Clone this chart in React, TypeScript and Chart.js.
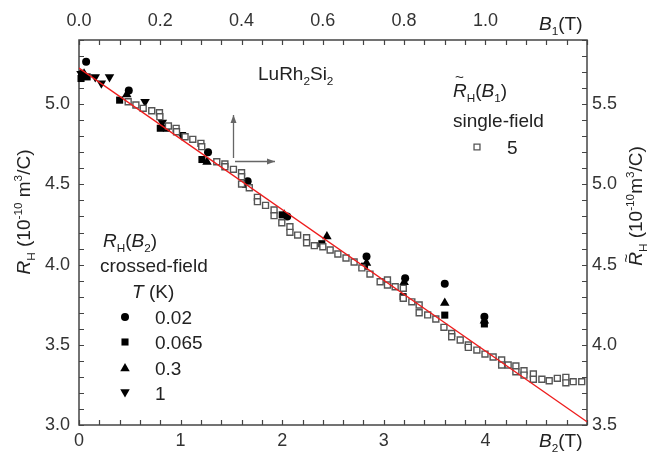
import React, { useEffect, useRef } from 'react';
import { Chart, registerables } from 'chart.js';

Chart.register(...registerables);

// ---- data ----
// red linear fit (B2 in T, R_H in 1e-10 m3/C)
const fitB2 = [0, 5];
const fitRH = [5.225, 3.02];

// single-field: B1 (top axis, T) vs R~_H (right axis)
const singleB1 = [
  0.121, 0.140, 0.158, 0.179, 0.198, 0.199, 0.220, 0.239, 0.240, 0.261, 0.280, 0.300, 0.302,
  0.339, 0.359, 0.359, 0.380, 0.400, 0.400, 0.400, 0.419, 0.439, 0.439, 0.459, 0.480, 0.480,
  0.499, 0.519, 0.519, 0.538, 0.560, 0.560, 0.579, 0.600, 0.618, 0.637, 0.657, 0.677, 0.696,
  0.716, 0.741, 0.759, 0.759, 0.778, 0.798, 0.798, 0.819, 0.837, 0.837, 0.858, 0.878, 0.898,
  0.917, 0.917, 0.938, 0.958, 0.958, 0.979, 0.999, 1.019, 1.040, 1.040, 1.056, 1.075, 1.075,
  1.095, 1.095, 1.118, 1.118, 1.139, 1.157, 1.177, 1.198, 1.198, 1.216, 1.237,
];
const singleRH = [
  5.515, 5.495, 5.474, 5.459, 5.447, 5.422, 5.364, 5.349, 5.328, 5.297, 5.281, 5.256, 5.235,
  5.141, 5.127, 5.110, 5.094, 5.073, 5.048, 5.002, 4.979, 4.919, 4.892, 4.869, 4.840, 4.805,
  4.761, 4.736, 4.701, 4.684, 4.667, 4.636, 4.618, 4.611, 4.591, 4.566, 4.541, 4.516, 4.479,
  4.441, 4.393, 4.404, 4.373, 4.362, 4.352, 4.290, 4.268, 4.248, 4.200, 4.186, 4.161, 4.109,
  4.071, 4.050, 4.030, 3.999, 3.984, 3.967, 3.942, 3.924, 3.905, 3.874, 3.874, 3.868, 3.832,
  3.838, 3.811, 3.818, 3.785, 3.785, 3.776, 3.791, 3.797, 3.763, 3.770, 3.770,
];

// crossed-field: B2 (bottom axis, T) vs R_H (left axis)
const t002B2 = [0.07, 0.03, 0.49, 1.27, 1.66, 2.05, 2.83, 3.21, 3.60, 3.99];
const t002RH = [5.265, 5.19, 5.085, 4.70, 4.52, 4.30, 4.05, 3.915, 3.88, 3.675];

const t0065B2 = [0.02, 0.08, 0.40, 0.80, 0.86, 1.21, 1.64, 2.00, 2.39, 2.81, 3.19, 3.60, 3.99];
const t0065RH = [5.16, 5.17, 5.025, 4.85, 4.85, 4.655, 4.50, 4.31, 4.13, 3.99, 3.80, 3.685, 3.63];

const t03B2 = [0.05, 0.47, 1.26, 2.02, 2.44, 2.83, 3.20, 3.60, 3.99];
const t03RH = [5.19, 5.06, 4.64, 4.31, 4.175, 4.01, 3.89, 3.76, 3.65];

const t1B2 = [0.02, 0.16, 0.22, 0.30, 0.65, 0.82, 1.01];
const t1RH = [5.19, 5.17, 5.13, 5.17, 5.015, 4.885, 4.81];

const legendTemps = ['0.02', '0.065', '0.3', '1'];
const legendSingle = ['5'];

const FONT = '"Liberation Sans", Arial, sans-serif';

type Seg = { t: string; i?: boolean; sub?: boolean; sup?: boolean };

function segFont(size: number, s: Seg) {
  const sz = s.sub || s.sup ? size * 0.62 : size;
  return `${s.i ? 'italic ' : ''}${sz}px ${FONT}`;
}
function richWidth(ctx: CanvasRenderingContext2D, segs: Seg[], size: number) {
  let w = 0;
  for (const s of segs) {
    ctx.font = segFont(size, s);
    w += ctx.measureText(s.t).width;
  }
  return w;
}
function drawRich(ctx: CanvasRenderingContext2D, segs: Seg[], x: number, y: number, size: number, align = 'left') {
  const w = richWidth(ctx, segs, size);
  let cx = align === 'center' ? x - w / 2 : align === 'right' ? x - w : x;
  ctx.textBaseline = 'alphabetic';
  ctx.textAlign = 'left';
  for (const s of segs) {
    ctx.font = segFont(size, s);
    const dy = s.sub ? size * 0.28 : s.sup ? -size * 0.42 : 0;
    ctx.fillText(s.t, cx, y + dy);
    cx += ctx.measureText(s.t).width;
  }
  return w;
}

function drawMarker(ctx: CanvasRenderingContext2D, style: string, x: number, y: number, r: number) {
  ctx.beginPath();
  if (style === 'circle') {
    ctx.arc(x, y, r, 0, Math.PI * 2);
  } else if (style === 'rect') {
    const h = r * Math.SQRT1_2;
    ctx.rect(x - h, y - h, 2 * h, 2 * h);
  } else if (style === 'triangle' || style === 'tdown') {
    const s = style === 'tdown' ? -1 : 1;
    for (let k = 0; k < 3; k++) {
      const a = (k * 2 * Math.PI) / 3;
      const px = x + Math.sin(a) * r;
      const py = y - s * Math.cos(a) * r;
      if (k === 0) ctx.moveTo(px, py);
      else ctx.lineTo(px, py);
    }
    ctx.closePath();
  }
}

function arrow(ctx: CanvasRenderingContext2D, x1: number, y1: number, x2: number, y2: number) {
  ctx.beginPath();
  ctx.moveTo(x1, y1);
  ctx.lineTo(x2, y2);
  ctx.stroke();
  const ang = Math.atan2(y2 - y1, x2 - x1);
  const L = 8, W = 3;
  ctx.beginPath();
  ctx.moveTo(x2, y2);
  ctx.lineTo(x2 - L * Math.cos(ang) + W * Math.sin(ang), y2 - L * Math.sin(ang) - W * Math.cos(ang));
  ctx.lineTo(x2 - L * Math.cos(ang) - W * Math.sin(ang), y2 - L * Math.sin(ang) + W * Math.cos(ang));
  ctx.closePath();
  ctx.fill();
}

const decorPlugin = {
  id: 'decor',
  beforeDatasetsDraw(chart: any) {
    const ctx: CanvasRenderingContext2D = chart.ctx;
    const a = chart.chartArea;
    ctx.save();
    ctx.strokeStyle = '#444';
    ctx.lineWidth = 1.5;
    ctx.strokeRect(a.left, a.top, a.right - a.left, a.bottom - a.top);
    ctx.lineWidth = 1.2;
    const L = 5;
    const sx = chart.scales.x, sx2 = chart.scales.x2, sy = chart.scales.y, sy2 = chart.scales.y2;
    ctx.beginPath();
    for (const t of sx.ticks) {
      const p = Math.round(sx.getPixelForValue(t.value)) + 0.5;
      ctx.moveTo(p, a.bottom); ctx.lineTo(p, a.bottom - L);
    }
    for (const t of sx2.ticks) {
      const p = Math.round(sx2.getPixelForValue(t.value)) + 0.5;
      ctx.moveTo(p, a.top); ctx.lineTo(p, a.top + L);
    }
    for (const t of sy.ticks) {
      const p = Math.round(sy.getPixelForValue(t.value)) + 0.5;
      ctx.moveTo(a.left, p); ctx.lineTo(a.left + L, p);
    }
    for (const t of sy2.ticks) {
      const p = Math.round(sy2.getPixelForValue(t.value)) + 0.5;
      ctx.moveTo(a.right, p); ctx.lineTo(a.right - L, p);
    }
    ctx.stroke();

    // arrows
    ctx.strokeStyle = '#666';
    ctx.fillStyle = '#666';
    ctx.lineWidth = 1.3;
    arrow(ctx, 233.5, 158, 233.5, 115);
    arrow(ctx, 235, 161.5, 275, 161.5);
    ctx.restore();
  },
  afterDraw(chart: any) {
    const ctx: CanvasRenderingContext2D = chart.ctx;
    ctx.save();
    ctx.fillStyle = '#222';
    const fs = 19;

    // axis titles
    drawRich(ctx, [{ t: 'B', i: true }, { t: '2', sub: true }, { t: '(T)' }], 539, 447, fs);
    drawRich(ctx, [{ t: 'B', i: true }, { t: '1', sub: true }, { t: '(T)' }], 539, 30, fs);

    ctx.save();
    ctx.translate(30, 212);
    ctx.rotate(-Math.PI / 2);
    drawRich(ctx, [{ t: 'R', i: true }, { t: 'H', sub: true }, { t: ' (10' }, { t: '-10', sup: true }, { t: ' m' }, { t: '3', sup: true }, { t: '/C)' }], 0, 0, fs, 'center');
    ctx.restore();

    ctx.save();
    ctx.translate(642, 206);
    ctx.rotate(-Math.PI / 2);
    const segsR: Seg[] = [{ t: 'R', i: true }, { t: 'H', sub: true }, { t: ' (10' }, { t: '-10', sup: true }, { t: 'm' }, { t: '3', sup: true }, { t: '/C)' }];
    const wR = richWidth(ctx, segsR, fs);
    drawRich(ctx, segsR, 0, 0, fs, 'center');
    ctx.font = `${fs * 0.8}px ${FONT}`;
    ctx.fillText('~', -wR / 2 + 3, -11);
    ctx.restore();

    // compound label
    drawRich(ctx, [{ t: 'LuRh' }, { t: '2', sub: true }, { t: 'Si' }, { t: '2', sub: true }], 258, 80, fs);

    // single-field legend
    drawRich(ctx, [{ t: 'R', i: true }, { t: 'H', sub: true }, { t: '(' }, { t: 'B', i: true }, { t: '1', sub: true }, { t: ')' }], 453, 97, fs);
    ctx.font = `${fs * 0.8}px ${FONT}`;
    ctx.fillText('~', 455, 82);
    drawRich(ctx, [{ t: 'single-field' }], 453, 127, fs);
    ctx.save();
    ctx.strokeStyle = '#555';
    ctx.lineWidth = 1.3;
    ctx.fillStyle = '#fff';
    drawMarker(ctx, 'rect', 477, 147, 4.2);
    ctx.fill();
    ctx.stroke();
    ctx.restore();
    drawRich(ctx, [{ t: legendSingle[0] }], 507, 154, fs);

    // crossed-field legend
    drawRich(ctx, [{ t: 'R', i: true }, { t: 'H', sub: true }, { t: '(' }, { t: 'B', i: true }, { t: '2', sub: true }, { t: ')' }], 103, 247, fs);
    drawRich(ctx, [{ t: 'crossed-field' }], 100, 272, fs);
    drawRich(ctx, [{ t: 'T', i: true }, { t: ' (K)' }], 132, 298, fs);
    const styles = ['circle', 'rect', 'triangle', 'tdown'];
    const radii = [4, 5, 5.5, 5.5];
    const rowsY = [317, 342, 367.5, 393];
    for (let k = 0; k < 4; k++) {
      ctx.fillStyle = '#000';
      drawMarker(ctx, styles[k], 125, rowsY[k] + (k === 3 ? -1 : k === 2 ? 1 : 0), radii[k]);
      ctx.fill();
      ctx.fillStyle = '#222';
      drawRich(ctx, [{ t: legendTemps[k] }], 155, rowsY[k] + 7, fs);
    }
    ctx.restore();
  },
};

function pts(xs: number[], ys: number[]) {
  return xs.map((x, i) => ({ x, y: ys[i] }));
}

export default function App() {
  const ref = useRef<HTMLCanvasElement>(null);
  useEffect(() => {
    if (!ref.current) return;
    const tickFont = { family: FONT, size: 18 };
    const tickColor = '#333';
    const common = {
      type: 'linear' as const,
      grid: { display: false, drawTicks: false },
      border: { display: false },
    };
    const chart = new Chart(ref.current, {
      type: 'scatter',
      data: {
        datasets: [
          {
            type: 'line',
            data: pts(fitB2, fitRH),
            borderColor: '#ee1c1c',
            borderWidth: 1.4,
            pointRadius: 0,
            xAxisID: 'x',
            yAxisID: 'y',
          } as any,
          {
            data: pts(singleB1, singleRH),
            pointStyle: 'rect',
            pointRadius: 4.2,
            pointBorderWidth: 1.4,
            pointBorderColor: '#555',
            pointBackgroundColor: '#fff',
            xAxisID: 'x2',
            yAxisID: 'y2',
            clip: false,
          },
          {
            data: pts(t002B2, t002RH),
            pointStyle: 'circle',
            pointRadius: 4,
            pointBorderWidth: 0,
            pointBackgroundColor: '#000',
            xAxisID: 'x',
            yAxisID: 'y',
            clip: false,
          },
          {
            data: pts(t0065B2, t0065RH),
            pointStyle: 'rect',
            pointRadius: 5,
            pointBorderWidth: 0,
            pointBackgroundColor: '#000',
            xAxisID: 'x',
            yAxisID: 'y',
            clip: false,
          },
          {
            data: pts(t03B2, t03RH),
            pointStyle: 'triangle',
            pointRadius: 5.5,
            pointBorderWidth: 0,
            pointBackgroundColor: '#000',
            xAxisID: 'x',
            yAxisID: 'y',
            clip: false,
          },
          {
            data: pts(t1B2, t1RH),
            pointStyle: 'triangle',
            rotation: 180,
            pointRadius: 5.5,
            pointBorderWidth: 0,
            pointBackgroundColor: '#000',
            xAxisID: 'x',
            yAxisID: 'y',
            clip: false,
          },
        ],
      },
      options: {
        responsive: false,
        animation: false,
        layout: { padding: 0 },
        plugins: { legend: { display: false }, tooltip: { enabled: false } },
        scales: {
          x: {
            ...common,
            position: 'bottom',
            min: 0,
            max: 5,
            afterFit: (s: any) => { s.height = 32; },
            ticks: {
              stepSize: 0.2, autoSkip: false, maxRotation: 0, maxTicksLimit: 100, padding: 5,
              font: tickFont, color: tickColor,
              callback: (v: any) => { const k = Math.round(Number(v) * 10); return k % 10 === 0 && k <= 40 ? String(k / 10) : ''; },
            },
          },
          x2: {
            ...common,
            position: 'top',
            min: 0,
            max: 1.25,
            afterFit: (s: any) => { s.height = 40; },
            ticks: {
              stepSize: 0.05, autoSkip: false, maxRotation: 0, maxTicksLimit: 100, padding: 8,
              font: tickFont, color: tickColor,
              callback: (v: any) => { const k = Math.round(Number(v) * 100); return k % 20 === 0 && k <= 100 ? (k / 100).toFixed(1) : ''; },
            },
          },
          y: {
            ...common,
            position: 'left',
            min: 3.0,
            max: 5.4,
            afterFit: (s: any) => { s.width = 79; },
            ticks: {
              stepSize: 0.1, autoSkip: false, maxTicksLimit: 100, padding: 9,
              font: tickFont, color: tickColor,
              callback: (v: any) => { const k = Math.round(Number(v) * 10); return k % 5 === 0 ? (k / 10).toFixed(1) : ''; },
            },
          },
          y2: {
            ...common,
            position: 'right',
            min: 3.5,
            max: 5.9,
            afterFit: (s: any) => { s.width = 68; },
            ticks: {
              stepSize: 0.1, autoSkip: false, maxTicksLimit: 100, padding: 5,
              font: tickFont, color: tickColor,
              callback: (v: any) => { const k = Math.round(Number(v) * 10); return k % 5 === 0 && k <= 55 ? (k / 10).toFixed(1) : ''; },
            },
          },
        } as any,
      },
      plugins: [decorPlugin],
    });
    return () => chart.destroy();
  }, []);
  return (
    <div style={{ position: 'fixed', left: 0, top: 0, width: 655, height: 457, background: '#fff' }}>
      <canvas ref={ref} width={655} height={457} style={{ display: 'block', width: 655, height: 457 }} />
    </div>
  );
}
